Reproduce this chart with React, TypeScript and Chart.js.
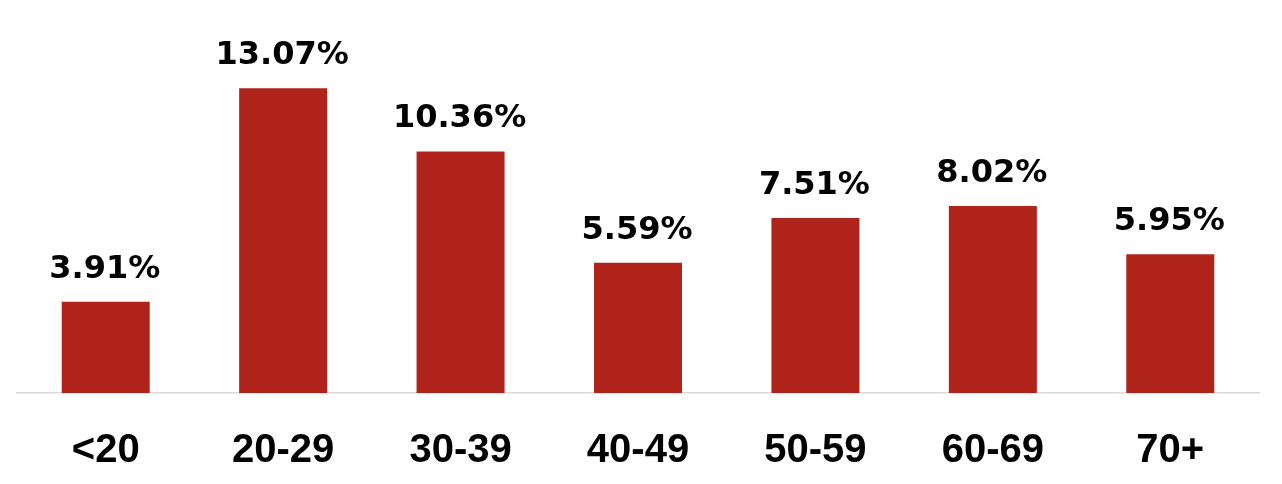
import React, { useEffect, useRef } from "react";
import { Chart, registerables } from "chart.js";

Chart.register(...registerables);

const categories: string[] = ["<20", "20-29", "30-39", "40-49", "50-59", "60-69", "70+"];
const shares: number[] = [3.91, 13.07, 10.36, 5.59, 7.51, 8.02, 5.95];
const valueLabels: string[] = ["3.91%", "13.07%", "10.36%", "5.59%", "7.51%", "8.02%", "5.95%"];

const BAR_COLOR = "#B0231B";

const valueLabelPlugin = {
  id: "valueLabels",
  afterDatasetsDraw(chart: any) {
    const ctx = chart.ctx;
    const meta = chart.getDatasetMeta(0);
    ctx.save();
    ctx.font = "bold 32px 'DejaVu Sans'";
    ctx.fillStyle = "#000000";
    ctx.textAlign = "center";
    ctx.textBaseline = "alphabetic";
    meta.data.forEach((bar: any, i: number) => {
      ctx.fillText(valueLabels[i], bar.x - 1, bar.y - 24);
    });
    ctx.restore();
  },
};

export default function App() {
  const canvasRef = useRef<HTMLCanvasElement | null>(null);

  useEffect(() => {
    if (!canvasRef.current) return;
    const chart = new Chart(canvasRef.current, {
      type: "bar",
      data: {
        labels: categories,
        datasets: [
          {
            data: shares,
            backgroundColor: BAR_COLOR,
            borderWidth: 0,
            categoryPercentage: 1,
            barPercentage: 0.496,
          },
        ],
      },
      options: {
        animation: false,
        responsive: true,
        maintainAspectRatio: false,
        layout: { padding: { top: 20, left: 17, right: 23, bottom: 0 } },
        plugins: {
          legend: { display: false },
          tooltip: { enabled: false },
        },
        scales: {
          x: {
            grid: { display: false },
            border: { display: true, color: "#D9D9D9", width: 1.5 },
            ticks: {
              color: "#000000",
              font: { family: "'Liberation Sans'", size: 40, weight: "bold" },
              padding: 26,
              maxRotation: 0,
            },
            afterFit: (scale: any) => {
              scale.height = 91;
            },
          },
          y: {
            display: false,
            min: 0,
            max: 16,
          },
        },
      },
      plugins: [valueLabelPlugin],
    });
    return () => chart.destroy();
  }, []);

  return (
    <div style={{ position: "fixed", left: 0, top: 0, width: 1282, height: 484, background: "#ffffff" }}>
      <canvas ref={canvasRef} />
    </div>
  );
}
